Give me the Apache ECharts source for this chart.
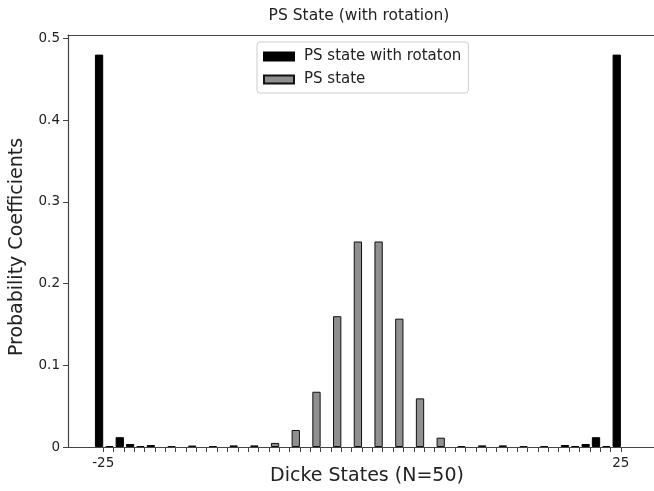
<!DOCTYPE html>
<html>
<head>
<meta charset="utf-8">
<script src="https://cdn.jsdelivr.net/npm/echarts@6/dist/echarts.min.js"></script>
<style>
  html, body { margin: 0; padding: 0; background: #fff; }
  #main { width: 654px; height: 491px; }
</style>
</head>
<body>
<div id="main"></div>
<script>
// Dicke states m = -25 ... 25
const states = []
for (let m = -25; m <= 25; m++) states.push(m)

// probabilities (states without a bar are left out)
const rotStates = [-25, -24, -23, -22, -21, -20, 20, 21, 22, 23, 24, 25]
const rotValues = [0.48, 0.0012, 0.012, 0.0037, 0.0012, 0.0024, 0.0024, 0.0012, 0.0037, 0.012, 0.0012, 0.48]

const psStates = [-18, -16, -14, -12, -10, -8, -6, -4, -2, 0, 2, 4, 6, 8, 10, 12, 14, 16, 18]
const psValues = [0.0012, 0.0018, 0.0012, 0.002, 0.002, 0.005, 0.0208, 0.0676, 0.16, 0.2514, 0.2514, 0.157, 0.0595, 0.0114, 0.0012, 0.002, 0.002, 0.0012, 0.0012]

const xTickLabels = [-25, 25]
const yTicks = [0, 0.1, 0.2, 0.3, 0.4, 0.5]

const font = 'DejaVu Sans'
const axisColor = '#444'

// bars sit just left of their tick in the original plot
function toData(xs, ys) {
  return xs.map((m, i) => [m - 0.4, ys[i]])
}

const myChart = echarts.init(document.getElementById('main'), null, { renderer: 'canvas' })

myChart.setOption({
  animation: false,
  textStyle: { fontFamily: font },
  title: {
    text: 'PS State (with rotation)',
    left: 354,
    textAlign: 'center',
    top: 3,
    textStyle: { fontFamily: font, fontSize: 15.5, fontWeight: 'normal', color: '#222' }
  },
  legend: {
    orient: 'vertical',
    left: 257,
    top: 42,
    padding: [7, 7, 6, 6],
    icon: 'rect',
    itemWidth: 30,
    itemHeight: 8,
    itemGap: 8,
    borderColor: '#ccc',
    borderWidth: 1,
    borderRadius: 3,
    textStyle: { fontFamily: font, fontSize: 15, color: '#222', padding: [0, 0, 0, 5] },
    data: ['PS state with rotaton', 'PS state']
  },
  grid: { left: 68, right: 0, top: 35, bottom: 44, containLabel: false, outerBoundsMode: 'none' },
  xAxis: [
    {
      type: 'value',
      min: -28.4,
      max: 28.2,
      name: 'Dicke States (N=50)',
      nameLocation: 'middle',
      nameGap: 20,
      nameMoveOverlap: false,
      nameTextStyle: { fontFamily: font, fontSize: 19, color: '#222', padding: [0, 0, 0, 12] },
      splitLine: { show: false },
      axisLine: { show: true, onZero: false, lineStyle: { color: axisColor, width: 1.2 } },
      axisTick: { show: true, length: 5, customValues: states, lineStyle: { color: axisColor } },
      axisLabel: { customValues: xTickLabels, fontFamily: font, fontSize: 13.5, color: '#222', margin: 9 }
    },
    {
      type: 'value',
      position: 'top',
      min: -28.4,
      max: 28.2,
      splitLine: { show: false },
      axisLine: { show: true, onZero: false, lineStyle: { color: axisColor, width: 1.2 } },
      axisTick: { show: false },
      axisLabel: { show: false }
    }
  ],
  yAxis: {
    type: 'value',
    min: 0,
    max: 0.504,
    name: 'Probability Coefficients',
    nameLocation: 'middle',
    nameGap: 41,
    nameMoveOverlap: false,
    nameTextStyle: { fontFamily: font, fontSize: 19, color: '#222', padding: [0, 12, 0, 0] },
    splitLine: { show: false },
    axisLine: { show: true, onZero: false, lineStyle: { color: axisColor, width: 1.2 } },
    axisTick: { show: true, length: 5, customValues: yTicks, lineStyle: { color: axisColor } },
    axisLabel: {
      customValues: yTicks,
      fontFamily: font, fontSize: 13.5, color: '#222', margin: 8,
      formatter: v => String(Math.round(v * 10) / 10)
    }
  },
  series: [
    {
      name: 'PS state with rotaton',
      type: 'bar',
      barWidth: 8.3,
      barGap: '-100%',
      data: toData(rotStates, rotValues),
      itemStyle: { color: '#000', borderColor: '#000', borderWidth: 1 }
    },
    {
      name: 'PS state',
      type: 'bar',
      barWidth: 8.3,
      barGap: '-100%',
      data: toData(psStates, psValues),
      itemStyle: { color: '#8f8f8f', borderColor: '#111', borderWidth: 1 }
    }
  ]
})
</script>
</body>
</html>
